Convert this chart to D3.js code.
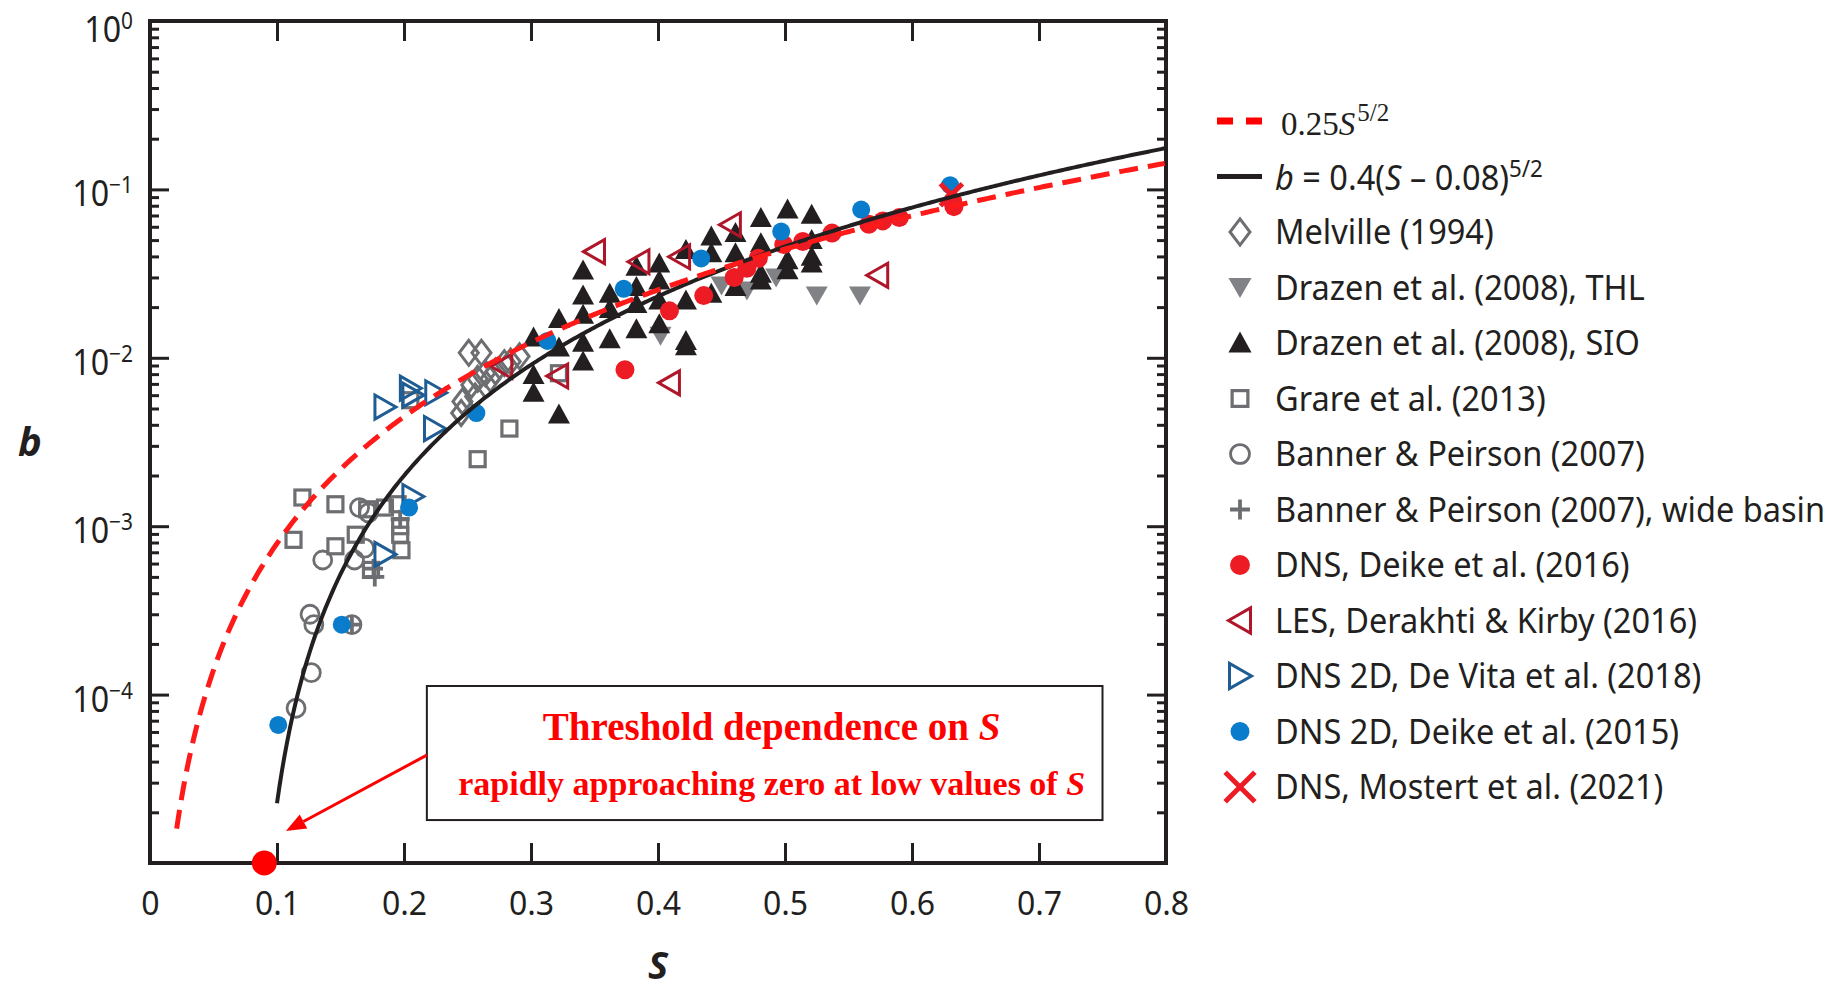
<!DOCTYPE html>
<html>
<head>
<meta charset="utf-8">
<script src="https://cdn.jsdelivr.net/npm/d3@7"></script>
<style>
  body { margin: 0; background: #fff; }
  svg { display: block; }
</style>
</head>
<body>
<div id="chart"></div>
<script>
// ---- data: [S, b] ----
const xTicks = [0, 0.1, 0.2, 0.3, 0.4, 0.5, 0.6, 0.7, 0.8];
const yExponents = [-5, -4, -3, -2, -1, 0];
const yLabelExponents = [-4, -3, -2, -1, 0];

const melville = [[0.251, 0.0107], [0.261, 0.0107], [0.246, 0.0055], [0.245, 0.0047], [0.253, 0.0069],
  [0.258, 0.0075], [0.264, 0.0081], [0.272, 0.0083], [0.279, 0.0093], [0.284, 0.0095],
  [0.291, 0.0102], [0.268, 0.0075], [0.256, 0.0059]];
const drazenTHL = [[0.402, 0.0135], [0.450, 0.0269], [0.470, 0.0251], [0.493, 0.030], [0.525, 0.0234], [0.559, 0.0234]];
const drazenSIO = [[0.302, 0.0132], [0.302, 0.0079], [0.302, 0.0062], [0.322, 0.017], [0.322, 0.0115],
  [0.322, 0.0046], [0.341, 0.033], [0.341, 0.0234], [0.341, 0.018], [0.341, 0.0123], [0.341, 0.0095],
  [0.362, 0.024], [0.362, 0.0195], [0.362, 0.0129], [0.383, 0.0347], [0.383, 0.0263], [0.383, 0.0209],
  [0.383, 0.0148], [0.401, 0.0363], [0.401, 0.0288], [0.401, 0.0219], [0.401, 0.0158], [0.422, 0.0437],
  [0.422, 0.0219], [0.422, 0.0126], [0.422, 0.0117], [0.442, 0.0525], [0.442, 0.0417], [0.442, 0.024],
  [0.461, 0.055], [0.461, 0.0417], [0.461, 0.0263], [0.481, 0.0676], [0.481, 0.0479], [0.481, 0.0316],
  [0.481, 0.0288], [0.502, 0.0759], [0.502, 0.038], [0.502, 0.0331], [0.521, 0.0708], [0.521, 0.0501],
  [0.521, 0.0398], [0.521, 0.0363]];
const grare = [[0.205, 0.0056], [0.283, 0.0038], [0.258, 0.0025], [0.322, 0.0081], [0.120, 0.00148],
  [0.146, 0.00135], [0.113, 0.00083], [0.146, 0.00076], [0.162, 0.00089], [0.185, 0.00129],
  [0.195, 0.00135], [0.197, 0.0010], [0.197, 0.00089], [0.198, 0.00072], [0.171, 0.00126], [0.174, 0.00055]];
const banner = [[0.165, 0.00129], [0.172, 0.0012], [0.169, 0.00074], [0.136, 0.00063], [0.161, 0.00063],
  [0.126, 0.0003], [0.129, 0.00026], [0.159, 0.00026], [0.127, 0.000135], [0.115, 0.000083]];
const bannerWide = [[0.176, 0.00056], [0.177, 0.0005], [0.159, 0.00026], [0.197, 0.0011]];
const deike2016 = [[0.374, 0.0085], [0.409, 0.019], [0.436, 0.0234], [0.460, 0.030], [0.470, 0.034],
  [0.479, 0.039], [0.499, 0.047], [0.514, 0.049], [0.537, 0.055], [0.566, 0.062], [0.577, 0.065],
  [0.590, 0.068], [0.633, 0.079], [0.632, 0.085]];
const derakhti = [[0.277, 0.0089], [0.321, 0.0078], [0.350, 0.0427], [0.385, 0.0372], [0.417, 0.0398],
  [0.457, 0.0617], [0.573, 0.0309], [0.409, 0.0071]];
const deVita = [[0.185, 0.0051], [0.205, 0.0066], [0.207, 0.0060], [0.225, 0.0062], [0.224, 0.0038],
  [0.207, 0.0015], [0.185, 0.00068]];
const deike2015 = [[0.101, 0.000066], [0.151, 0.00026], [0.204, 0.00129], [0.257, 0.0047], [0.313, 0.0126],
  [0.373, 0.0257], [0.434, 0.0389], [0.497, 0.0562], [0.560, 0.0759], [0.630, 0.106]];
const mostert = [[0.631, 0.093]];

// the two fitted curves named in the legend: b = coef * (S - offset)^(5/2)
const fitLow = { coef: 0.25, offset: 0, sStart: 0.021 };
const fitThreshold = { coef: 0.4, offset: 0.08, sStart: 0.1 };
const thresholdS = 0.09;

const legendLabels = ["Melville (1994)", "Drazen et al. (2008), THL", "Drazen et al. (2008), SIO",
  "Grare et al. (2013)", "Banner & Peirson (2007)", "Banner & Peirson (2007), wide basin",
  "DNS, Deike et al. (2016)", "LES, Derakhti & Kirby (2016)", "DNS 2D, De Vita et al. (2018)",
  "DNS 2D, Deike et al. (2015)", "DNS, Mostert et al. (2021)"];

// ---- layout ----
const margin = {top: 21, right: 663, bottom: 126, left: 150};
const W = 1829, H = 989;
const width = W - margin.left - margin.right;   // 1016
const height = H - margin.top - margin.bottom;  // 842
const ink = "#231f20";
const fontSans = "'Noto Sans', 'Open Sans', sans-serif";
const fontSerif = "'Liberation Serif', 'DejaVu Serif', serif";

const series = [
  {values: grare, shape: "square", color: "#6d6e71"},
  {values: banner, shape: "circle", color: "#6d6e71"},
  {values: bannerWide, shape: "plus", color: "#6d6e71"},
  {values: melville, shape: "diamond", color: "#6d6e71"},
  {values: drazenTHL, shape: "triDown", color: "#808285"},
  {values: drazenSIO, shape: "triUp", color: ink},
  {values: deVita, shape: "triRight", color: "#1f5c93"},
  {values: derakhti, shape: "triLeft", color: "#b0162a"},
  {values: deike2016, shape: "dot", color: "#ed1c24"},
  {values: deike2015, shape: "dotSmall", color: "#0a7ccc"},
  {values: mostert, shape: "cross", color: "#ed1c24"}
];
// legend order differs from drawing order
const legendShapes = [3, 4, 5, 0, 1, 2, 8, 7, 6, 9, 10].map(i => series[i]);

function addMarker(g, shape, color, k) {
  k = k || 1;
  if (shape === "diamond") {
    g.append("path").attr("d", `M0,${-12.5 * k}L${9.5 * k},0L0,${12.5 * k}L${-9.5 * k},0Z`)
      .attr("fill", "none").attr("stroke", color).attr("stroke-width", 3);
  } else if (shape === "triDown") {
    g.append("path").attr("d", `M${-11 * k},${-9 * k}L${11 * k},${-9 * k}L0,${10 * k}Z`).attr("fill", color);
  } else if (shape === "triUp") {
    g.append("path").attr("d", `M${-11 * k},${9 * k}L${11 * k},${9 * k}L0,${-11 * k}Z`).attr("fill", color);
  } else if (shape === "square") {
    g.append("rect").attr("x", -7.5 * k).attr("y", -7.5 * k).attr("width", 15 * k).attr("height", 15 * k)
      .attr("fill", "none").attr("stroke", color).attr("stroke-width", 3.2);
  } else if (shape === "circle") {
    g.append("circle").attr("r", 9 * k).attr("fill", "none").attr("stroke", color).attr("stroke-width", 2.8);
  } else if (shape === "plus") {
    g.append("path").attr("d", `M${-9.5 * k},0H${9.5 * k}M0,${-9.5 * k}V${9.5 * k}`)
      .attr("stroke", color).attr("stroke-width", 3.8);
  } else if (shape === "dot") {
    g.append("circle").attr("r", 9.5 * k).attr("fill", color);
  } else if (shape === "dotSmall") {
    g.append("circle").attr("r", 9 * k).attr("fill", color);
  } else if (shape === "triLeft") {
    g.append("path").attr("d", `M${-11 * k},0L${10 * k},${-12 * k}L${10 * k},${12 * k}Z`)
      .attr("fill", "none").attr("stroke", color).attr("stroke-width", 3);
  } else if (shape === "triRight") {
    g.append("path").attr("d", `M${11 * k},0L${-10 * k},${-12 * k}L${-10 * k},${12 * k}Z`)
      .attr("fill", "none").attr("stroke", color).attr("stroke-width", 3);
  } else if (shape === "cross") {
    g.append("path").attr("d", `M${-11 * k},${-11 * k}L${11 * k},${11 * k}M${-11 * k},${11 * k}L${11 * k},${-11 * k}`)
      .attr("stroke", color).attr("stroke-width", 5);
  }
}

const svg = d3.select("#chart").append("svg")
  .attr("width", W).attr("height", H)
  .style("background", "#fff");

const g = svg.append("g").attr("transform", `translate(${margin.left},${margin.top})`);

const x = d3.scaleLinear().domain([0, 0.8]).range([0, width]);
const y = d3.scaleLog().domain([1e-5, 1]).range([height, 0]);

// minor log ticks 2..9 in every decade
const yMajor = yExponents.map(e => Math.pow(10, e));
const yMinor = [];
yExponents.slice(0, -1).forEach(e => { for (let k = 2; k <= 9; k++) yMinor.push(k * Math.pow(10, e)); });

// bottom axis with labels, ticks pointing inward
const xAxisG = g.append("g").attr("transform", `translate(0,${height})`)
  .call(d3.axisBottom(x).tickValues(xTicks).tickSize(-20).tickPadding(29).tickFormat(d3.format(".1~f")));
xAxisG.selectAll("text").attr("font-family", fontSans).attr("font-size", 32).attr("fill", ink);

g.append("g").call(d3.axisTop(x).tickValues(xTicks.slice(1, -1)).tickSize(-20).tickFormat(""));
g.append("g").call(d3.axisLeft(y).tickValues(yMajor).tickSize(-19).tickFormat(""));
g.append("g").call(d3.axisLeft(y).tickValues(yMinor).tickSize(-9).tickFormat(""));
g.append("g").attr("transform", `translate(${width},0)`).call(d3.axisRight(y).tickValues(yMajor).tickSize(-19).tickFormat(""));
g.append("g").attr("transform", `translate(${width},0)`).call(d3.axisRight(y).tickValues(yMinor).tickSize(-9).tickFormat(""));

g.selectAll(".domain").remove();
g.selectAll(".tick line").attr("stroke", ink).attr("stroke-width", 3);

// power-of-ten labels on the y axis (the bottom decade carries no label)
yLabelExponents.forEach(e => {
  // keep the top label inside the page
  const base = Math.max(y(Math.pow(10, e)) + 17, 21);
  const t = g.append("text")
    .attr("transform", `translate(-17,${base}) scale(0.87,1)`)
    .attr("text-anchor", "end")
    .attr("font-family", fontSans).attr("fill", ink);
  t.append("tspan").attr("font-size", 37).text("10");
  t.append("tspan").attr("font-size", 24).attr("dy", -13).text(e < 0 ? "\u2212" + (-e) : String(e));
});

// frame
g.append("rect").attr("width", width).attr("height", height)
  .attr("fill", "none").attr("stroke", ink).attr("stroke-width", 4);

// axis titles
svg.append("text").attr("x", 30).attr("y", 456).attr("text-anchor", "middle")
  .attr("font-family", "'Open Sans', 'Noto Sans', sans-serif").attr("font-weight", "bold").attr("font-style", "italic")
  .attr("font-size", 40).attr("fill", ink).text("b");
svg.append("text").attr("x", margin.left + width / 2).attr("y", 979).attr("text-anchor", "middle")
  .attr("font-family", "'Open Sans', 'Noto Sans', sans-serif").attr("font-weight", "bold").attr("font-style", "italic")
  .attr("font-size", 38).attr("fill", ink).text("S");

// data markers
series.forEach(s => {
  g.append("g").selectAll("g")
    .data(s.values)
    .join("g")
    .attr("transform", d => `translate(${x(d[0])},${y(d[1])})`)
    .each(function () { addMarker(d3.select(this), s.shape, s.color, 1); });
});

// fitted curves
function curvePoints(fit) {
  return d3.range(fit.sStart, 0.8001, 0.002).map(sv => [sv, fit.coef * Math.pow(sv - fit.offset, 2.5)]);
}
const line = d3.line().x(d => x(d[0])).y(d => y(d[1]));
g.append("path").datum(curvePoints(fitThreshold)).attr("d", line)
  .attr("fill", "none").attr("stroke", ink).attr("stroke-width", 4);
g.append("path").datum(curvePoints(fitLow)).attr("d", line)
  .attr("fill", "none").attr("stroke", "#ff1a1a").attr("stroke-width", 5).attr("stroke-dasharray", "19,10");

// annotation box + arrow, placed in data space
const box = {s0: 0.218, s1: 0.750, b0: Math.pow(10, -3.949), b1: Math.pow(10, -4.745)};
g.append("rect").attr("x", x(box.s0)).attr("y", y(box.b0))
  .attr("width", x(box.s1) - x(box.s0)).attr("height", y(box.b1) - y(box.b0))
  .attr("fill", "#fff").attr("stroke", ink).attr("stroke-width", 2);

const boxMid = (x(box.s0) + x(box.s1)) / 2 + 7;
const l1 = g.append("text").attr("x", boxMid).attr("y", y(box.b0) + 54).attr("text-anchor", "middle")
  .attr("font-family", fontSerif).attr("font-weight", "bold").attr("font-size", 39).attr("fill", "#ff0000");
l1.append("tspan").text("Threshold dependence on ");
l1.append("tspan").attr("font-style", "italic").text("S");
const l2 = g.append("text").attr("x", boxMid).attr("y", y(box.b0) + 109).attr("text-anchor", "middle")
  .attr("font-family", fontSerif).attr("font-weight", "bold").attr("font-size", 34).attr("fill", "#ff0000");
l2.append("tspan").text("rapidly approaching zero at low values of ");
l2.append("tspan").attr("font-style", "italic").text("S");

const a0 = [x(box.s0), y(Math.pow(10, -4.359))];
const a1 = [x(0.107), y(Math.pow(10, -4.81))];
const ang = Math.atan2(a1[1] - a0[1], a1[0] - a0[0]);
const headLen = 20, headW = 8;
const base = [a1[0] - headLen * Math.cos(ang), a1[1] - headLen * Math.sin(ang)];
g.append("line").attr("x1", a0[0]).attr("y1", a0[1]).attr("x2", base[0]).attr("y2", base[1])
  .attr("stroke", "#ff0000").attr("stroke-width", 3);
g.append("path")
  .attr("d", `M${a1[0]},${a1[1]}L${base[0] - headW * Math.sin(ang)},${base[1] + headW * Math.cos(ang)}L${base[0] + headW * Math.sin(ang)},${base[1] - headW * Math.cos(ang)}Z`)
  .attr("fill", "#ff0000");

// threshold point on the S axis
g.append("circle").attr("cx", x(thresholdS)).attr("cy", y(1e-5)).attr("r", 12.5).attr("fill", "#ff0000");

// ---- legend ----
const legendX = 1240, legendY0 = 121, legendStep = 55.5, textX = 1275;
const legend = svg.append("g");

// row 0: dashed fit
legend.append("path").attr("d", `M${legendX - 23},${legendY0}H${legendX - 7}M${legendX + 6},${legendY0}H${legendX + 22}`)
  .attr("stroke", "#ff0000").attr("stroke-width", 7);
const r0 = legend.append("text").attr("x", 1281).attr("y", legendY0 + 14)
  .attr("font-family", fontSerif).attr("font-size", 33).attr("fill", ink);
r0.append("tspan").text("0.25");
r0.append("tspan").attr("font-style", "italic").text("S");
r0.append("tspan").attr("font-size", 25).attr("dx", 2).attr("dy", -14).text("5/2");

// row 1: threshold fit
const y1 = legendY0 + legendStep;
legend.append("path").attr("d", `M${legendX - 23},${y1}H${legendX + 22}`)
  .attr("stroke", ink).attr("stroke-width", 5);
const r1 = legend.append("text").attr("transform", `translate(${textX},${y1 + 13}) scale(0.93,1)`)
  .attr("font-family", fontSans).attr("font-size", 35).attr("fill", ink);
r1.append("tspan").attr("font-style", "italic").text("b");
r1.append("tspan").text(" = 0.4(");
r1.append("tspan").attr("font-style", "italic").text("S");
r1.append("tspan").text(" \u2013 0.08)");
r1.append("tspan").attr("font-size", 24).attr("dy", -13).text("5/2");

// marker rows
legendLabels.forEach((label, i) => {
  const ry = legendY0 + legendStep * (i + 2);
  const s = legendShapes[i];
  const mg = legend.append("g").attr("transform", `translate(${legendX},${ry})`);
  addMarker(mg, s.shape, s.color, s.shape === "cross" ? 1.35 : 1.05);
  legend.append("text").attr("transform", `translate(${textX},${ry + 12}) scale(0.93,1)`)
    .attr("font-family", fontSans).attr("font-size", 35).attr("fill", ink).text(label);
});
</script>
</body>
</html>
